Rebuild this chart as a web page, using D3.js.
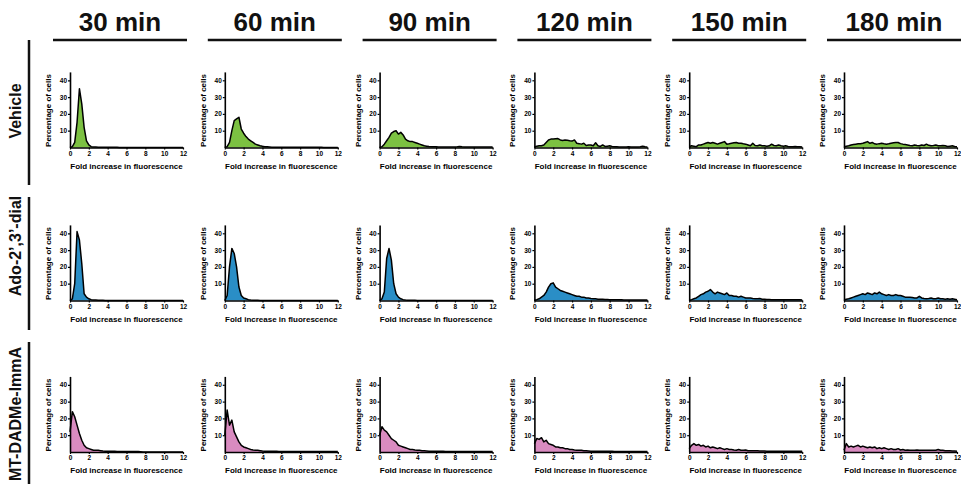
<!DOCTYPE html>
<html><head><meta charset="utf-8">
<script src="https://cdn.jsdelivr.net/npm/d3@7"></script>
<style>
html,body{margin:0;padding:0;background:#fff;}
svg{display:block;font-family:"Liberation Sans",Arial,Helvetica,sans-serif;}
</style></head>
<body>
<svg id="chart" width="961" height="484"></svg>
<script>
// ---------- data ----------
const colLabels = ["30 min","60 min","90 min","120 min","150 min","180 min"];
const rowLabels = ["Vehicle","Ado-2\u2019,3\u2019-dial","MT-DADMe-ImmA"];
const rowColors = ["#7cc142","#2a8ec6","#d98bc0"];
const xTicks = [0,2,4,6,8,10,12];
const yTicks = [10,20,30,40];
const binX = [0,0.25,0.5,0.75,1,1.25,1.5,1.75,2,2.25,2.5,2.75,3,3.25,3.5,3.75,4,4.25,4.5,4.75,5,5.25,5.5,5.75,6,6.25,6.5,6.75,7,7.25,7.5,7.75,8,8.25,8.5,8.75,9,9.25,9.5,9.75,10,10.25,10.5,10.75,11,11.25,11.5,11.75,12];

const vehicle30  = [0,0.5,3,15,35,26,12,4,1.5,0.5,0.3,0.3,0.2,0.2,0.2,0.2,0.1,0.1,0.1,0.1,0.2,0,0,0,0,0,0,0,0,0,0,0,0,0,0,0,0,0,0,0,0,0,0,0,0,0,0,0,0];
const vehicle60  = [0,0.5,3,10,16,17,18,11,8.5,6.5,5,4,3,2,1.5,1,0.7,0.5,0.4,0.3,0.2,0.1,0.1,0.1,0.1,0.1,0.1,0.1,0.1,0.1,0.1,0.1,0.1,0.1,0.1,0.1,0.1,0.1,0.1,0.1,0.1,0.1,0,0,0,0,0,0,0];
const vehicle90  = [0,0.5,2,4,6,8.5,9.5,10,8,9,7.5,5,4,3.5,3.5,3,2.5,2,1.5,1,0.8,0.6,0.5,0.5,0.4,0.3,0.3,0.3,0.3,0.3,0.3,0.3,0.3,0.4,0.6,0.4,0.3,0.3,0.3,0.3,0.3,0.3,0.3,0.3,0.3,0.3,0.3,0.3,0.3];
const vehicle120 = [0.3,0.8,1,1,1.5,3,4.5,5,5,5.2,5.3,4.5,4.2,4.5,4.3,4,3.8,4.5,2.5,2.3,2,2.5,1.2,1.5,1.5,1,2.8,1,0.6,1.5,0.6,0.8,1,0.6,0.5,0.4,0.3,0.3,0.3,0.3,0.5,0.3,0.3,0.3,0.3,0.4,0.8,0.4,0.3];
const vehicle150 = [0.5,1,0.8,0.5,1.5,1.5,2,2.5,3,2.5,3,2.5,2,2.5,3,3.5,2,2.2,2.5,2.8,3,2.5,2.5,2.2,2,1.5,1,2.5,1.2,1,1.5,1,1,0.8,1,2,1.2,1,1.5,1,0.8,1,0.6,0.5,0.5,0.6,0.5,0.5,0.3];
const vehicle180 = [0.5,0.8,1,1.5,1.8,2,2.2,2.3,2.5,3,3.5,2.5,3,2.2,2,2.3,2.5,2.2,2,2.2,2.5,2.8,3,3,2.3,2,1.8,1.5,1.2,1,1.5,1.2,1,1.5,1.2,2,1.3,1,1.2,1.5,1,1,1.2,1,0.6,0.8,1,0.6,0.5];

const ado30  = [0,1,10,41,36,22,4,2,1,0.5,0.3,0.3,0.2,0.1,0.1,0,0,0,0,0,0,0,0,0,0,0,0,0,0,0,0,0,0,0,0,0,0,0,0,0,0,0,0,0,0,0,0,0,0];
const ado60  = [0,3,20,31,28,20,8,3,1.5,1,0.5,0.3,0.2,0.1,0.1,0,0,0,0,0,0,0,0,0,0,0,0,0,0,0,0,0,0,0,0,0,0,0,0,0,0,0,0,0,0,0,0,0,0];
const ado90  = [0,1,5,25,31,24,10,4,2,1,0.5,0.3,0.2,0.2,0.1,0.1,0,0,0,0,0,0,0,0,0,0,0,0,0,0,0,0,0,0,0,0,0,0,0,0,0,0,0,0,0,0,0,0,0];
const ado120 = [0.3,0.5,1,2,3,5,8,10,10.5,8,7,6,5.5,5,4.5,4,3.5,3,2.5,2.5,2,2,1.5,1.5,1.2,1,1,0.8,0.8,0.7,0.6,0.6,0.5,0.5,0.5,0.4,0.4,0.4,0.3,0.3,0.3,0.3,0.3,0.3,0.3,0.3,0.3,0.3,0.3];
const ado150 = [0.3,0.5,1,1.5,2.5,3.5,4,5,5.5,6.5,5,4,5,4.5,4,3.5,4.5,3,3,2.5,2.5,2,2.5,2,1.5,1.5,1.5,1.2,1,1,1.2,0.8,0.8,0.6,0.6,0.5,0.5,0.5,0.5,0.5,0.5,0.5,0.5,0.4,0.4,0.4,0.4,0.4,0.3];
const ado180 = [0.5,0.8,1,1.5,2,2.5,3,3.5,4,3.5,4.5,4,3.5,4.5,4,5,4,3.5,3,3.5,3,3,3.5,3,3,2.5,2,2,2,1.8,1.5,1.5,2.5,1.5,1.2,1,1.2,1.5,1,1,1.5,1,1,0.8,1,0.8,1,0.8,0.5];

const mt30  = [12,24,21,16,11,7,4,2.5,2,1.5,1,1,1,0.8,0.6,0.5,0.5,0.5,0.5,0.4,0.3,0.3,0.3,0.3,0.3,0.3,0.3,0.3,0.3,0.3,0.2,0,0,0,0,0,0,0,0,0,0,0,0,0,0,0,0,0,0];
const mt60  = [10,25,16,19,12,9,6,4,3,2.5,2,1.5,1.2,1,1,0.8,0.6,0.5,0.5,0.5,0.5,0.4,0.4,0.3,0.3,0.3,0.3,0.3,0.3,0.3,0.3,0.3,0.3,0.3,0.3,0.3,0.3,0.3,0.3,0.3,0.3,0.3,0.3,0.3,0.3,0.3,0.3,0.3,0.3];
const mt90  = [10,15,13,12,10,8,7,6,4,3.5,3,2.5,2,1.5,1.5,1.2,1,1,0.8,0.7,0.6,0.5,0.5,0.5,0.5,0.4,0.4,0.4,0.3,0.3,0.3,0.3,0.3,0.3,0.3,0.3,0.3,0.3,0.3,0.3,0.3,0.3,0.3,0.3,0.3,0.3,0.3,0.3,0.3];
const mt120 = [5,8,7.5,8.5,6,7,5,4.5,4,3,3,2.5,2.5,2,2,1.5,1.5,1.2,1,1,1,0.8,0.7,0.6,0.5,0.5,0.5,0.5,0.5,0.4,0.4,0.4,0.4,0.4,0.3,0.3,0.3,0.3,0.3,0.3,0.3,0.3,0.3,0.3,0.3,0.3,0.3,0.3,0.3];
const mt150 = [2,4,5,4,4.5,3.5,4,3,3.5,2.5,3,2.5,2,2.5,2,1.5,2,1.5,1.5,1.2,1,1.5,1,1,1.2,0.8,0.8,0.8,0.7,0.7,0.6,0.6,0.6,0.5,0.5,0.5,0.5,0.5,0.5,0.5,0.5,0.5,0.5,0.5,0.5,0.5,0.5,0.5,0.5];
const mt180 = [1,5,3,3.5,3,3.5,4,3,3.5,3,2.5,3,2.5,3,2,2.5,2,2.5,2,1.5,2,1.5,1.5,2,1.2,1.5,1,1.2,1,1,1,1.2,1,1,1,1,1,1,1,1,1.5,1,1,0.8,0.8,0.8,0.6,0.6,0.5];

const seriesGrid = [
  [vehicle30, vehicle60, vehicle90, vehicle120, vehicle150, vehicle180],
  [ado30, ado60, ado90, ado120, ado150, ado180],
  [mt30, mt60, mt90, mt120, mt150, mt180]
];

// ---------- layout ----------
const svg = d3.select("#chart");
const plotW = 113, plotH = 75.6;
const colLeft = c => 70 + c * 154.8;
const rowBase = [147.5, 300.5, 452];
const headerLine = [53, 187];

// column headers
colLabels.forEach((lab, c) => {
  const cx = colLeft(c) - 17 + 67;
  svg.append("text").attr("x", cx).attr("y", 31)
    .attr("text-anchor", "middle").attr("font-size", 26).attr("font-weight", "bold")
    .attr("fill", "#111").text(lab);
  svg.append("line").attr("x1", colLeft(c) - 17).attr("x2", colLeft(c) - 17 + 134)
    .attr("y1", 40).attr("y2", 40).attr("stroke", "#111").attr("stroke-width", 2.5);
});

// row labels and bars
const rowBar = [[40,185],[197,330],[342,484]];
const rowTextY = [111, 246, 414];
rowLabels.forEach((lab, r) => {
  svg.append("line").attr("x1", 29).attr("x2", 29)
    .attr("y1", rowBar[r][0]).attr("y2", rowBar[r][1])
    .attr("stroke", "#111").attr("stroke-width", 2.5);
  svg.append("text")
    .attr("transform", `translate(21,${rowTextY[r]}) rotate(-90)`)
    .attr("text-anchor", "middle").attr("font-size", 16).attr("font-weight", "bold")
    .attr("fill", "#111").text(lab);
});

// panels
seriesGrid.forEach((row, r) => {
  row.forEach((vals, c) => {
    const g = svg.append("g").attr("transform", `translate(${colLeft(c)},${rowBase[r] - plotH})`);
    const x = d3.scaleLinear().domain([0, 12]).range([0, plotW]);
    const y = d3.scaleLinear().domain([0, 45]).range([plotH, 0]);
    const pts = binX.map((bx, i) => [bx, vals[i]]);

    g.append("path").datum(pts)
      .attr("d", d3.area().x(d => x(d[0])).y0(y(0)).y1(d => y(d[1])))
      .attr("fill", rowColors[r]);
    g.append("path").datum(pts)
      .attr("d", d3.line().x(d => x(d[0])).y(d => y(d[1])))
      .attr("fill", "none").attr("stroke", "#000").attr("stroke-width", 1.5)
      .attr("stroke-linejoin", "round");

    const xa = g.append("g").attr("transform", `translate(0,${plotH})`)
      .call(d3.axisBottom(x).tickValues(xTicks).tickSize(2).tickSizeOuter(0).tickPadding(1.5));
    const ya = g.append("g")
      .call(d3.axisLeft(y).tickValues(yTicks).tickSize(2).tickSizeOuter(0).tickPadding(1));
    [xa, ya].forEach(a => {
      a.select(".domain").attr("stroke", "#000").attr("stroke-width", 1.6);
      a.selectAll(".tick line").attr("stroke", "#000").attr("stroke-width", 1.2);
      a.selectAll(".tick text").attr("font-size", 6.5).attr("font-weight", "bold")
        .attr("fill", "#000").attr("font-family", "Liberation Sans, Arial, sans-serif");
    });

    g.append("text").attr("x", plotW / 2).attr("y", plotH + 21.5)
      .attr("text-anchor", "middle").attr("font-size", 8).attr("font-weight", "bold")
      .attr("fill", "#000").text("Fold increase in fluorescence");
    g.append("text")
      .attr("transform", `translate(-19,${plotH - 37}) rotate(-90)`)
      .attr("text-anchor", "middle").attr("font-size", 8).attr("font-weight", "bold")
      .attr("fill", "#000").text("Percentage of cells");
  });
});
</script>
</body></html>
